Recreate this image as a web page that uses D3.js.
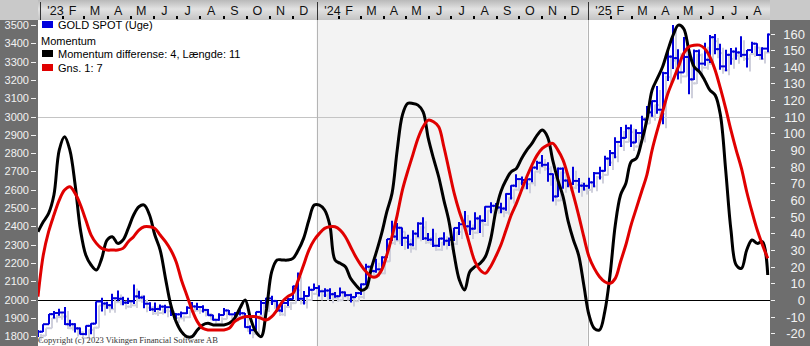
<!DOCTYPE html>
<html><head><meta charset="utf-8">
<script src="https://cdn.jsdelivr.net/npm/d3@7"></script>
<style>body{margin:0;background:#fff}svg{display:block}</style>
</head><body><svg id="c" width="810" height="346"></svg>
<script>
// ---------- DATA ----------
const firstWeek = "2022-12-30";
const lastWeek = "2025-08-29";
const open = [1798,1824,1865,1920,1926,1929,1865,1865,1842,1811,1856,1868,1989,1978,1969,2007,2004,1983,1990,2017,2011,1977,1946,1948,1961,1958,1921,1919,1925,1955,1962,1959,1943,1914,1889,1915,1940,1919,1924,1925,1849,1833,1932,1981,2006,1992,1940,1981,2002,2072,2004,2019,2053,2063,2045,2049,2029,2018,2039,2024,2013,2035,2083,2179,2155,2165,2230,2330,2344,2392,2337,2301,2360,2415,2334,2327,2294,2333,2321,2326,2391,2411,2400,2387,2443,2431,2507,2512,2503,2497,2577,2622,2658,2653,2657,2721,2747,2736,2685,2563,2715,2650,2633,2648,2622,2621,2640,2690,2703,2770,2800,2861,2883,2936,2858,2910,2984,3023,3084,3037,3237,3327,3319,3241,3325,3203,3357,3289,3310,3433,3368,3274,3337,3355,3350,3337,3363,3398,3336,3371];
const high = [1833,1865,1921,1937,1949,1959,1890,1870,1847,1858,1870,1989,2010,1988,2032,2049,2015,2009,2082,2048,2022,1985,1983,1972,1971,1960,1925,1935,1963,1987,1982,1968,1948,1916,1925,1953,1943,1932,1947,1926,1858,1933,1997,2009,2020,1993,1993,2008,2075,2148,2047,2071,2088,2078,2062,2062,2041,2065,2044,2031,2041,2088,2195,2185,2223,2236,2330,2431,2418,2393,2354,2378,2422,2450,2364,2387,2336,2368,2339,2392,2424,2483,2432,2477,2461,2509,2531,2528,2529,2581,2625,2685,2672,2657,2722,2758,2790,2750,2689,2721,2721,2657,2726,2664,2638,2665,2697,2726,2786,2817,2886,2942,2955,2956,2930,3004,3057,3087,3167,3245,3357,3500,3367,3435,3345,3366,3366,3403,3446,3451,3398,3365,3375,3377,3439,3363,3409,3400,3378,3453];
const low = [1795,1823,1865,1896,1911,1861,1853,1819,1809,1805,1810,1868,1934,1950,1950,1990,1969,1975,1975,2004,1952,1937,1932,1940,1925,1910,1893,1902,1921,1953,1942,1929,1911,1885,1884,1914,1915,1901,1913,1846,1810,1832,1917,1953,1970,1932,1931,1965,2000,1995,1973,2016,2051,2017,2013,2002,2010,2016,2015,1984,2013,2024,2079,2146,2146,2160,2228,2319,2324,2292,2277,2291,2340,2325,2320,2287,2287,2295,2293,2319,2353,2393,2353,2383,2364,2424,2471,2491,2471,2485,2546,2614,2625,2603,2641,2709,2725,2643,2536,2560,2605,2613,2626,2583,2596,2605,2614,2656,2699,2730,2772,2833,2881,2833,2856,2880,2982,2999,3015,2957,3194,3260,3202,3240,3121,3200,3245,3277,3293,3340,3255,3247,3283,3310,3325,3268,3347,3330,3311,3351];
const close = [1824,1865,1920,1926,1929,1865,1865,1842,1811,1856,1868,1989,1978,1969,2007,2004,1983,1990,2017,2011,1977,1946,1948,1961,1958,1921,1919,1925,1955,1962,1959,1943,1914,1889,1915,1940,1919,1924,1925,1849,1833,1932,1981,2006,1992,1940,1981,2002,2072,2004,2019,2053,2063,2045,2049,2029,2018,2039,2024,2013,2035,2083,2179,2155,2165,2230,2330,2344,2392,2337,2301,2360,2415,2334,2327,2294,2333,2321,2326,2391,2411,2400,2387,2443,2431,2507,2512,2503,2497,2577,2622,2658,2653,2657,2721,2747,2736,2685,2563,2715,2650,2633,2648,2622,2621,2640,2690,2703,2770,2800,2861,2883,2936,2858,2910,2984,3023,3084,3037,3237,3327,3319,3241,3325,3203,3357,3289,3310,3433,3368,3274,3337,3355,3350,3337,3363,3398,3336,3371,3448];
const momentum = [41,47,52,63,90,98,90,69,42,27,21,18,25,36,38,34,36,43,51,56,57,51,39,30,13,-3,-13,-19,-22,-22,-18,-15,-14,-15,-15,-15,-14,-11,-5,0,-11,-19,-22,-6,17,24,24,24,25,30,37,48,57,57,54,45,24,22,20,13,9,6,7,19,29,40,53,64,90,111,118,118,117,113,97,85,74,60,47,27,12,6,17,20,22,26,36,53,65,72,77,79,85,90,94,99,102,98,84,72,62,47,36,27,9,-9,-17,-18,-7,15,45,63,70,83,85,95,108,126,133,140,150,159,165,163,150,140,137,132,126,123,111,78,42,21,19,30,36,34,35,15];
const average = [2,27,41,51,60,66,68,64,57,48,39,34,31,30,30,30,31,35,38,42,44,44,43,39,35,30,23,12,3,-6,-13,-17,-18,-18,-18,-18,-17,-13,-11,-10,-10,-10,-11,-12,-10,-6,-1,2,4,12,21,30,36,40,43,44,44,42,38,32,26,21,17,14,14,18,27,38,51,66,77,87,97,104,108,107,104,92,78,64,53,44,33,23,18,16,20,26,33,42,51,58,66,74,81,87,91,93,94,90,84,74,63,51,38,26,19,14,11,10,13,23,33,45,55,65,75,90,102,113,124,132,140,148,152,153,153,151,146,138,127,115,102,90,79,65,53,42,33,25];
const priceTicks = [1800,1900,2000,2100,2200,2300,2400,2500,2600,2700,2800,2900,3000,3100,3200,3300,3400,3500];
const momentumTicks = [-20,-10,0,10,20,30,40,50,60,70,80,90,100,110,120,130,140,150,160];
const monthLetters = ["J","F","M","A","M","J","J","A","S","O","N","D"];
const legendItems = [
  {label:"GOLD SPOT (Uge)", color:"#0000dd"},
  {label:"Momentum", color:null},
  {label:"Momentum differense: 4, Længde: 11", color:"#000000"},
  {label:"Gns. 1: 7", color:"#e00000"}
];
const copyright = "Copyright (c) 2023 Vikingen Financial Software AB";

// ---------- LAYOUT ----------
const W = 810, H = 346;
const plotL = 38, plotR = 770, plotT = 20, plotB = 346;
const svg = d3.select("#c");
const parse = d3.timeParse("%Y-%m-%d");
const dates = d3.timeFriday.range(parse(firstWeek), d3.timeDay.offset(parse(lastWeek), 1));

const x = d3.scaleTime()
  .domain([new Date(2023,0,1), new Date(2024,0,1), new Date(2025,0,1), new Date(2025,8,1)])
  .range([39.5, 316.5, 587.5, 770]);
const yP = d3.scaleLinear().domain([2000, 3500]).range([299.5, 25]);
const yM = d3.scaleLinear().domain([0, 160]).range([300, 33.5]);

const defs = svg.append("defs");
const g1 = defs.append("linearGradient").attr("id","topg").attr("x1",0).attr("y1",0).attr("x2",0).attr("y2",1);
g1.append("stop").attr("offset","0%").attr("stop-color","#b9b9b9");
g1.append("stop").attr("offset","45%").attr("stop-color","#e2e2e2");
g1.append("stop").attr("offset","100%").attr("stop-color","#c4c4c4");
const clip = defs.append("clipPath").attr("id","pc");
clip.append("rect").attr("x",plotL).attr("y",plotT).attr("width",plotR-plotL).attr("height",plotB-plotT);

// plot background: alternating year bands
svg.append("rect").attr("x",plotL).attr("y",plotT).attr("width",plotR-plotL).attr("height",plotB-plotT).attr("fill","#ffffff");
svg.append("rect").attr("x",x(new Date(2024,0,1))).attr("y",plotT)
  .attr("width",x(new Date(2025,0,1))-x(new Date(2024,0,1))).attr("height",plotB-plotT).attr("fill","#f3f3f3");

// grid lines
svg.append("line").attr("x1",plotL).attr("x2",plotR).attr("y1",Math.round(yP(3000))+0.5).attr("y2",Math.round(yP(3000))+0.5).attr("stroke","#c4c4c4");
[new Date(2024,0,1), new Date(2025,0,1)].forEach(d=>{
  svg.append("line").attr("x1",Math.round(x(d))+0.5).attr("x2",Math.round(x(d))+0.5).attr("y1",plotT).attr("y2",plotB).attr("stroke","#b4b4b4");
});
svg.append("line").attr("x1",plotL).attr("x2",plotR).attr("y1",Math.round(yM(0))+0.5).attr("y2",Math.round(yM(0))+0.5).attr("stroke","#000");

// price bars
const bars = dates.map((d,i)=>({d, o:open[i], h:high[i], l:low[i], c:close[i]}));
const pg = svg.append("g").attr("clip-path","url(#pc)");
function drawBars(g, color, dx, dy){
  bars.forEach(b=>{
    const cx = Math.round(x(b.d)) + dx;
    g.append("line").attr("x1",cx).attr("x2",cx).attr("y1",yP(b.h)+dy).attr("y2",yP(b.l)+dy).attr("stroke",color).attr("stroke-width",2);
    g.append("line").attr("x1",cx-3).attr("x2",cx).attr("y1",yP(b.o)+dy).attr("y2",yP(b.o)+dy).attr("stroke",color).attr("stroke-width",2);
    g.append("line").attr("x1",cx).attr("x2",cx+3).attr("y1",yP(b.c)+dy).attr("y2",yP(b.c)+dy).attr("stroke",color).attr("stroke-width",2);
  });
}
drawBars(pg.append("g"), "#cfd0dc", 3, 4);
drawBars(pg.append("g"), "#0000dd", 0, 0);

// momentum lines
const line = d3.line().x((v,i)=>x(dates[i])).y(v=>yM(v)).curve(d3.curveCatmullRom);
pg.append("path").datum(momentum).attr("d",line).attr("fill","none").attr("stroke","#000").attr("stroke-width",3).attr("stroke-linejoin","round");
pg.append("path").datum(average).attr("d",line).attr("fill","none").attr("stroke","#e00000").attr("stroke-width",3).attr("stroke-linejoin","round");

// legend
const lg = svg.append("g").attr("font-family","Liberation Sans, Arial, sans-serif").attr("font-size",11).attr("fill","#000");
const legY = [25, 41, 54, 68];
legendItems.forEach((it,i)=>{
  if(it.color){
    lg.append("rect").attr("x",42).attr("y",legY[i]-4).attr("width",11).attr("height",7).attr("fill",it.color);
    lg.append("text").attr("x",58).attr("y",legY[i]+4).text(it.label);
  } else {
    lg.append("text").attr("x",41).attr("y",legY[i]+4).text(it.label);
  }
});

// copyright
svg.append("text").attr("x",38).attr("y",343).attr("font-family","Liberation Serif, Times New Roman, serif")
  .attr("font-size",9).attr("fill","#333").attr("textLength",180).attr("lengthAdjust","spacingAndGlyphs").text(copyright);

// top axis
svg.append("rect").attr("x",0).attr("y",0).attr("width",W).attr("height",plotT).attr("fill","url(#topg)");
svg.append("rect").attr("x",plotR).attr("y",0).attr("width",W-plotR).attr("height",plotT).attr("fill","#c9c9c9");
svg.append("rect").attr("x",0).attr("y",0).attr("width",plotL).attr("height",plotT).attr("fill","#c9c9c9");
const months = d3.timeMonth.range(new Date(2023,0,1), new Date(2025,8,1));
const tg = svg.append("g").attr("font-family","Liberation Sans, Arial, sans-serif").attr("font-size",12.5).attr("fill","#111");
months.forEach(m=>{
  const x0 = x(m), x1 = x(d3.timeMonth.offset(m,1));
  const isYear = m.getMonth()===0;
  if(isYear){
    tg.append("line").attr("x1",Math.round(x0)+0.5).attr("x2",Math.round(x0)+0.5).attr("y1",2).attr("y2",plotT).attr("stroke","#333");
  } else {
    tg.append("rect").attr("x",Math.round(x0)-1).attr("y",16).attr("width",2).attr("height",3).attr("fill","#000");
  }
  const lbl = isYear ? "'" + String(m.getFullYear()).slice(2) : monthLetters[m.getMonth()];
  tg.append("text").attr("x",isYear ? x0+16 : (x0+x1)/2 - 1).attr("y",14.5).attr("text-anchor","middle").text(lbl);
});

// left axis
svg.append("rect").attr("x",0).attr("y",plotT).attr("width",plotL).attr("height",H-plotT).attr("fill","#6e6e6e");
const la = svg.append("g").attr("font-family","Liberation Sans, Arial, sans-serif").attr("font-size",11).attr("fill","#f2f2f2");
priceTicks.forEach(t=>{
  const yy = Math.round(yP(t));
  la.append("rect").attr("x",31).attr("y",yy).attr("width",5).attr("height",1).attr("fill","#f2f2f2");
  la.append("text").attr("x",29).attr("y",yy+4).attr("text-anchor","end").text(t);
});

// right axis
svg.append("rect").attr("x",plotR).attr("y",plotT).attr("width",W-plotR).attr("height",H-plotT).attr("fill","#6e6e6e");
const ra = svg.append("g").attr("font-family","Liberation Sans, Arial, sans-serif").attr("font-size",13).attr("fill","#f2f2f2");
momentumTicks.forEach(t=>{
  const yy = Math.round(yM(t));
  ra.append("rect").attr("x",771).attr("y",yy).attr("width",4).attr("height",1).attr("fill","#f2f2f2");
  ra.append("text").attr("x",805).attr("y",yy+4.5).attr("text-anchor","end").text(t);
});
</script></body></html>
